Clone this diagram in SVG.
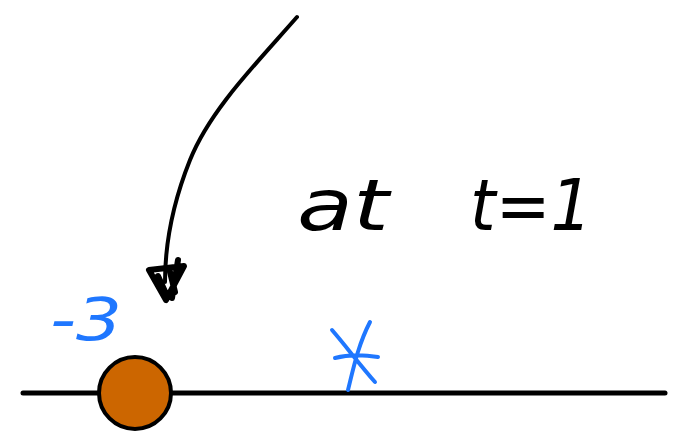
<svg xmlns="http://www.w3.org/2000/svg" width="673" height="437" viewBox="0 0 673 437">
<style>
.ink{fill:none;stroke:#000;stroke-width:4;stroke-linecap:round;stroke-linejoin:round}
.blue{fill:none;stroke:#1f77ff;stroke-width:4;stroke-linecap:round;stroke-linejoin:round}
.hand{font-family:"DejaVu Sans","Liberation Sans",sans-serif;font-style:italic;font-weight:300}
</style>
<rect width="673" height="437" fill="#fff"/>
<g id="connectors">
<path class="ink" d="M297,17 C255,65 210,110 190,160 C172,205 165,245 165,282"/>
<path class="ink" style="stroke-width:6" d="M149,270 L184,266 L166,300 Z M158,276 L167,296 M170,272 L175,292 M178,260 L172,298"/>
</g>
<g id="numberline">
<line class="ink" x1="23" y1="393" x2="665" y2="393" style="stroke-width:5"/>
</g>
<g id="point">
<circle cx="135" cy="393" r="36" fill="#cc6600" stroke="#000" stroke-width="4"/>
</g>
<g id="label-minus3">
<text x="50" y="340" class="hand" font-size="58" fill="#1f77ff" textLength="72" lengthAdjust="spacingAndGlyphs">-3</text>
</g>
<g id="marker-x">
<path class="blue" d="M332,330 C345,345 360,365 375,382 M370,322 C358,345 353,370 348,390 M335,358 C350,354 365,355 378,357"/>
</g>
<g id="label-at">
<text x="297" y="230" class="hand" font-size="72" fill="#000" textLength="92" lengthAdjust="spacingAndGlyphs">at</text>
<text x="470" y="230" class="hand" font-size="72" fill="#000" textLength="122" lengthAdjust="spacingAndGlyphs">t=1</text>
</g>
</svg>
